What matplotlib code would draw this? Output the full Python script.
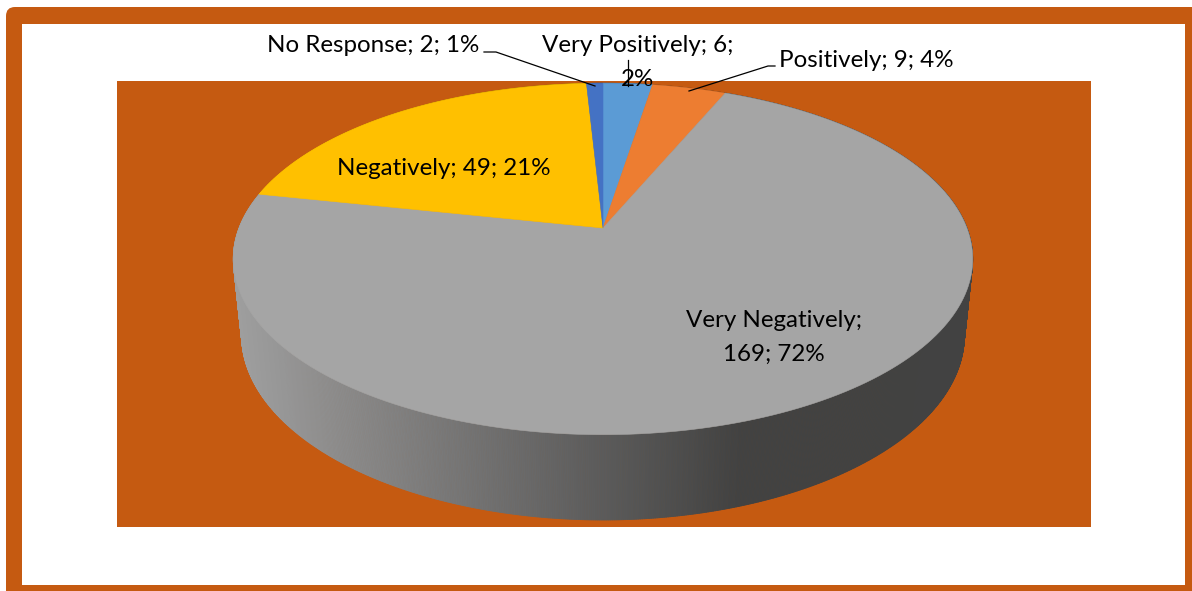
import numpy as np
import matplotlib
matplotlib.use("Agg")
import matplotlib.pyplot as plt
from matplotlib.patches import Rectangle, FancyBboxPatch, Polygon
from matplotlib.collections import PolyCollection

# survey answers, drawn clockwise from 12 o'clock
categories = ["Very Positively", "Positively", "Very Negatively", "Negatively", "No Response"]
counts = [6, 9, 169, 49, 2]
percents = [2, 4, 72, 21, 1]
colors = ["#5B9BD5", "#ED7D31", "#A5A5A5", "#FFC000", "#4472C4"]
label_fmt = ["{c}; {v};\n{p}%", "{c}; {v}; {p}%", "{c};\n{v}; {p}%", "{c}; {v}; {p}%", "{c}; {v}; {p}%"]

ORANGE = "#C55A11"

fig = plt.figure(figsize=(11.92, 5.91), dpi=100)
ax = fig.add_axes([0, 0, 1, 1])
ax.set_xlim(0, 1192)
ax.set_ylim(591, 0)
ax.axis("off")

# frame + plot area
ax.add_patch(FancyBboxPatch((6, 7), 1220, 620, boxstyle="round,pad=0,rounding_size=9",
                            fc=ORANGE, ec="none"))
ax.add_patch(Rectangle((22, 24), 1163, 561, fc="white", ec="none"))
ax.add_patch(Rectangle((117, 81), 974, 446, fc=ORANGE, ec="none"))

# simple perspective camera for the 3d pie
elev = np.radians(27.9)
L = 5.02
S = 1827.0
X0, Y0 = 603.0, 228.0
h = 0.2386


def project(t, z):
    x = np.cos(t)
    y = np.sin(t)
    depth = y * np.cos(elev) + L - z * np.sin(elev)
    sx = x / depth
    sy = (y * np.sin(elev) + z * np.cos(elev)) / depth
    return X0 + S * sx, Y0 - S * sy, depth


total = float(sum(counts))
bounds = 90 - 360 * np.concatenate([[0], np.cumsum(counts)]) / total  # degrees

# side wall, strips sorted far -> near
ts = np.radians(np.linspace(90, -270, 1441))
polys, cols, depths = [], [], []
for i in range(len(ts) - 1):
    t0, t1 = ts[i], ts[i + 1]
    xa, ya, _ = project(t0, 0)
    xb, yb, _ = project(t1, 0)
    xc, yc, _ = project(t1, -h)
    xd, yd, _ = project(t0, -h)
    mid = np.degrees((t0 + t1) / 2)
    k = np.searchsorted(-bounds, -mid) - 1
    k = min(max(k, 0), len(counts) - 1)
    base = np.array(matplotlib.colors.to_rgb(colors[k]))
    shade = np.interp((xa + xb) / 2, [235, 740], [0.96, 0.40])
    c = np.clip(base * shade, 0, 1)
    polys.append([(xa, ya), (xb, yb), (xc, yc), (xd, yd)])
    cols.append(c)
    depths.append(project((t0 + t1) / 2, -h / 2)[2])
order = np.argsort(depths)[::-1]
pc = PolyCollection([polys[i] for i in order], facecolors=[cols[i] for i in order],
                    edgecolors=[cols[i] for i in order], linewidths=0.6)
ax.add_collection(pc)

# top face wedges
for i in range(len(counts)):
    a = np.radians(np.linspace(bounds[i], bounds[i + 1], 200))
    px, py, _ = project(a, 0)
    pts = [(X0, Y0)] + list(zip(px, py))
    ax.add_patch(Polygon(pts, closed=True, fc=colors[i], ec=colors[i], lw=0.4))

# data labels (centre x, first baseline)
label_pos = [(638, 52), (866, 67), (774, 327), (444, 175), (373, 52)]
for i in range(len(counts)):
    txt = label_fmt[i].format(c=categories[i], v=counts[i], p=percents[i])
    lx, ly = label_pos[i]
    for j, line in enumerate(txt.split("\n")):
        ax.text(lx, ly + j * 34, line, ha="center", va="baseline",
                fontsize=17.4, family=["Lato", "DejaVu Sans"], color="black")

# leader lines
ax.plot([484, 496, 595], [52, 52, 86], color="black", lw=0.9)
ax.plot([628, 628], [60, 86], color="black", lw=0.9)
ax.plot([775, 768, 689], [66, 66, 91], color="black", lw=0.9)

fig.savefig("out.png", dpi=100)
